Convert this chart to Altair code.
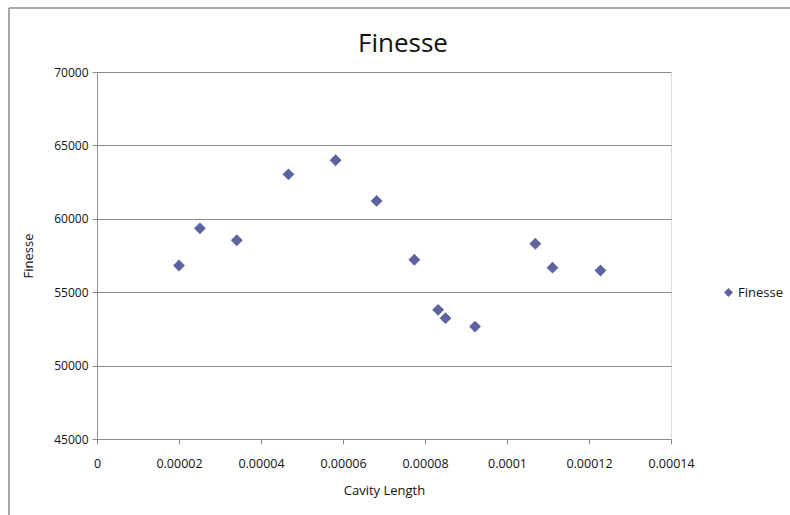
import altair as alt
import pandas as pd

cavity_length = [0.0000200, 0.0000251, 0.0000341, 0.0000467, 0.0000582, 0.0000682,
                 0.0000774, 0.0000832, 0.0000850, 0.0000922, 0.0001069, 0.0001111, 0.0001228]
finesse = [56820, 59350, 58540, 63030, 63990, 61220,
           57210, 53800, 53230, 52660, 58300, 56670, 56480]
series = ["Finesse"] * len(finesse)
chart_title = ["Finesse"]

x_ticks = [0, 0.00002, 0.00004, 0.00006, 0.00008, 0.0001, 0.00012, 0.00014]
y_ticks = [45000, 50000, 55000, 60000, 65000, 70000]

df = pd.DataFrame({"x": cavity_length, "y": finesse, "s": series})

FONT = "Open Sans"
W, H = 574, 367

points = alt.Chart(df).mark_point(shape="diamond", filled=True, size=140, opacity=1).encode(
    x=alt.X("x:Q", title="Cavity Length",
            scale=alt.Scale(domain=[0, 0.00014], nice=False, zero=False),
            axis=alt.Axis(values=x_ticks, format="~f", grid=False, domain=True,
                          domainColor="#8c8c8c", tickColor="#8c8c8c", tickSize=5,
                          labelFlush=False, labelOverlap=False,
                          labelFont=FONT, labelFontSize=12.5, labelColor="#111",
                          labelPadding=13, titleFont=FONT, titleFontSize=13,
                          titleFontWeight="normal", titleColor="#111", titlePadding=15)),
    y=alt.Y("y:Q", title="Finesse",
            scale=alt.Scale(domain=[45000, 70000], nice=False, zero=False),
            axis=alt.Axis(values=y_ticks, format="d", grid=True, gridColor="#8c8c8c",
                          gridWidth=1, domain=True, domainColor="#8c8c8c",
                          tickColor="#8c8c8c", tickSize=5,
                          labelFlush=False, labelOverlap=False,
                          labelFont=FONT, labelFontSize=12, labelColor="#111",
                          labelPadding=4, titleFont=FONT, titleFontSize=13,
                          titleFontWeight="normal", titleColor="#111", titlePadding=18)),
    color=alt.Color("s:N", scale=alt.Scale(range=["#5c64a0"]),
                    legend=alt.Legend(title=None, orient="none", legendX=625, legendY=214,
                                      symbolType="diamond", symbolSize=80,
                                      labelFont=FONT, labelFontSize=13, labelColor="#111",
                                      labelOffset=3)),
)

title_mark = alt.Chart(pd.DataFrame({"t": chart_title})).mark_text(
    font=FONT, fontSize=26, color="#111", align="center", baseline="alphabetic"
).encode(text="t:N", x=alt.value(W / 2 + 19), y=alt.value(-20))

border_left = alt.Chart(pd.DataFrame({"a": [0]})).mark_rule(color="#8a8a8a", strokeWidth=1.5).encode(
    x=alt.value(-88), y=alt.value(-64), y2=alt.value(H + 90))
border_top = alt.Chart(pd.DataFrame({"a": [0]})).mark_rule(color="#8a8a8a", strokeWidth=1.5).encode(
    x=alt.value(-88), x2=alt.value(W + 130), y=alt.value(-64))

chart = alt.layer(border_left, border_top, title_mark, points).properties(
    width=W, height=H,
    autosize=alt.AutoSizeParams(type="none"),
    padding={"left": 97, "top": 72, "right": 119, "bottom": 76},
).configure_view(stroke=None).configure(background="white")

chart.save("out.html", embed_options={"renderer": "svg", "actions": False})
